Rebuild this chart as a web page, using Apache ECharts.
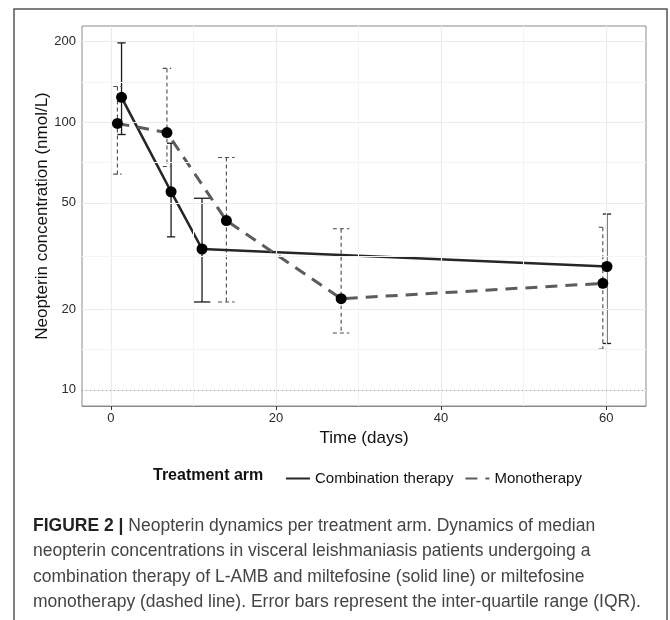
<!DOCTYPE html>
<html>
<head>
<meta charset="utf-8">
<script src="https://cdn.jsdelivr.net/npm/echarts@6/dist/echarts.min.js"></script>
<style>
  html, body { margin: 0; padding: 0; background: #fff; }
  #chart { width: 670px; height: 620px; }
</style>
</head>
<body>
<div id="chart"></div>
<script>
// combination therapy (solid)
var comboDays = [1.3, 7.3, 11.05, 60.1];
var comboMedian = [124, 55, 33.6, 28.9];
var comboQ1 = [90, 37.3, 21.3, 14.9];
var comboQ3 = [198, 83.5, 52, 45.4];

// monotherapy (dashed)
var monoDays = [0.8, 6.8, 14.0, 27.9, 59.6];
var monoMedian = [99, 91.5, 42.9, 21.9, 25.0];
var monoQ1 = [64, 68.3, 21.3, 16.3, 14.2];
var monoQ3 = [136, 159, 73.8, 40.0, 40.5];

var xBreaks = [0, 20, 40, 60];
var xMinor = [10, 30, 50];
var yBreaks = [10, 20, 50, 100, 200];
var yMinor = [14.14, 31.62, 70.71, 141.4];
var refLine = 10;

var FONT = 'Liberation Sans';

var chart = echarts.init(document.getElementById('chart'));

function pairs(xs, ys) {
    return xs.map(function (x, i) { return [x, ys[i]]; });
}
function bars(xs, lo, hi) {
    return xs.map(function (x, i) { return [x, lo[i], hi[i]]; });
}

// cap is narrower when the other arm has a point on the same day (dodged)
function errorRender(otherDays, color, width, dash) {
    return function (params, api) {
        var x = api.value(0), lo = api.value(1), hi = api.value(2);
        var shared = otherDays.some(function (d) { return Math.abs(d - x) < 1.5; });
        var top = api.coord([x, hi]);
        var bot = api.coord([x, lo]);
        var dayPx = api.coord([x + 1, lo])[0] - bot[0];
        var hw = dayPx * (shared ? 0.5 : 1.0);
        var style = { stroke: color, lineWidth: width, lineDash: dash, fill: null };
        return {
            type: 'group',
            children: [
                { type: 'line', shape: { x1: top[0], y1: top[1], x2: bot[0], y2: bot[1] }, style: style },
                { type: 'line', shape: { x1: top[0] - hw, y1: top[1], x2: top[0] + hw, y2: top[1] }, style: style },
                { type: 'line', shape: { x1: bot[0] - hw, y1: bot[1], x2: bot[0] + hw, y2: bot[1] }, style: style }
            ]
        };
    };
}

var gridLines = [];
xBreaks.forEach(function (v) { gridLines.push({ xAxis: v, lineStyle: { color: '#ebebeb', width: 1.2, type: 'solid' } }); });
xMinor.forEach(function (v) { gridLines.push({ xAxis: v, lineStyle: { color: '#f4f4f4', width: 1, type: 'solid' } }); });
yBreaks.forEach(function (v) { gridLines.push({ yAxis: v, lineStyle: { color: '#ebebeb', width: 1.2, type: 'solid' } }); });
yMinor.forEach(function (v) { gridLines.push({ yAxis: v, lineStyle: { color: '#f4f4f4', width: 1, type: 'solid' } }); });

var option = {
    animation: false,
    backgroundColor: '#fff',
    textStyle: { fontFamily: FONT },
    grid: {
        left: 82, right: 24, top: 26, bottom: 214,
        show: true, borderColor: '#8a8a8a', borderWidth: 1, backgroundColor: '#fff'
    },
    xAxis: {
        type: 'value',
        min: -3.49,
        max: 64.83,
        axisLine: { show: true, lineStyle: { color: '#8a8a8a', width: 1 } },
        axisTick: { show: true, customValues: xBreaks, length: 4, lineStyle: { color: '#333', width: 1 } },
        axisLabel: { customValues: xBreaks, fontSize: 13, color: '#2a2a2a', margin: 6, fontFamily: FONT },
        splitLine: { show: false },
        name: 'Time (days)',
        nameLocation: 'middle',
        nameGap: 24,
        nameMoveOverlap: false,
        nameTextStyle: { fontSize: 17, color: '#111', fontFamily: FONT }
    },
    yAxis: {
        type: 'log',
        logBase: 10,
        min: 8.7,
        max: 229,
        axisLine: { show: true, lineStyle: { color: '#8a8a8a', width: 1 } },
        axisTick: { show: true, customValues: yBreaks, length: 4, lineStyle: { color: '#333', width: 1 } },
        axisLabel: { customValues: yBreaks, fontSize: 13, color: '#2a2a2a', margin: 6, fontFamily: FONT },
        splitLine: { show: false },
        minorSplitLine: { show: false },
        name: 'Neopterin concentration (nmol/L)',
        nameLocation: 'middle',
        nameGap: 31,
        nameMoveOverlap: false,
        nameTextStyle: { fontSize: 17, color: '#111', fontFamily: FONT }
    },
    legend: {
        data: ['Combination therapy', 'Monotherapy'],
        left: 280,
        top: 466,
        itemWidth: 24,
        itemHeight: 14,
        itemGap: 11,
        itemStyle: { opacity: 0 },
        textStyle: { fontSize: 15, color: '#111', fontFamily: FONT }
    },
    graphic: [
        {
            type: 'polyline',
            shape: { points: [[14, 620], [14, 9], [667, 9], [667, 620]] },
            style: { stroke: '#555', lineWidth: 1.5, fill: null }
        },
        {
            type: 'text',
            style: {
                x: 153, y: 476, text: 'Treatment arm',
                fontSize: 16, fontWeight: 'bold', fontFamily: FONT,
                fill: '#111', verticalAlign: 'middle'
            }
        },
        {
            type: 'text',
            style: {
                x: 33, y: 513,
                text: '{b|FIGURE 2 |} Neopterin dynamics per treatment arm. Dynamics of median\n' +
                      'neopterin concentrations in visceral leishmaniasis patients undergoing a\n' +
                      'combination therapy of L-AMB and miltefosine (solid line) or miltefosine\n' +
                      'monotherapy (dashed line). Error bars represent the inter-quartile range (IQR).',
                fontSize: 17.5, fontFamily: FONT, fill: '#444', lineHeight: 25.5,
                rich: { b: { fontWeight: 'bold', fontSize: 17.5, fontFamily: FONT, fill: '#222', lineHeight: 25.5 } }
            }
        }
    ],
    series: [
        {
            name: 'grid',
            type: 'line',
            data: [],
            z: 1,
            silent: true,
            markLine: {
                silent: true,
                symbol: ['none', 'none'],
                label: { show: false },
                emphasis: { disabled: true },
                data: gridLines.concat([
                    { yAxis: refLine, lineStyle: { color: '#999', width: 1, type: [1, 3] } }
                ])
            }
        },
        {
            name: 'comboErr',
            type: 'custom',
            z: 3,
            data: bars(comboDays, comboQ1, comboQ3),
            renderItem: errorRender(monoDays, '#1a1a1a', 1.3, null)
        },
        {
            name: 'monoErr',
            type: 'custom',
            z: 3,
            data: bars(monoDays, monoQ1, monoQ3),
            renderItem: errorRender(comboDays, '#4a4a4a', 1.1, [4, 3])
        },
        {
            name: 'Combination therapy',
            type: 'line',
            z: 4,
            data: pairs(comboDays, comboMedian),
            symbol: 'none',
            color: '#262626',
            lineStyle: { color: '#262626', width: 2.6, type: 'solid' }
        },
        {
            name: 'Monotherapy',
            type: 'line',
            z: 4,
            data: pairs(monoDays, monoMedian),
            symbol: 'none',
            color: '#5c5c5c',
            lineStyle: { color: '#5c5c5c', width: 3, type: [12, 8] }
        },
        {
            name: 'comboPts',
            type: 'scatter',
            z: 5,
            data: pairs(comboDays, comboMedian),
            symbolSize: 11,
            itemStyle: { color: '#000', opacity: 1 }
        },
        {
            name: 'monoPts',
            type: 'scatter',
            z: 5,
            data: pairs(monoDays, monoMedian),
            symbolSize: 11,
            itemStyle: { color: '#000', opacity: 1 }
        }
    ]
};

chart.setOption(option);
</script>
</body>
</html>
